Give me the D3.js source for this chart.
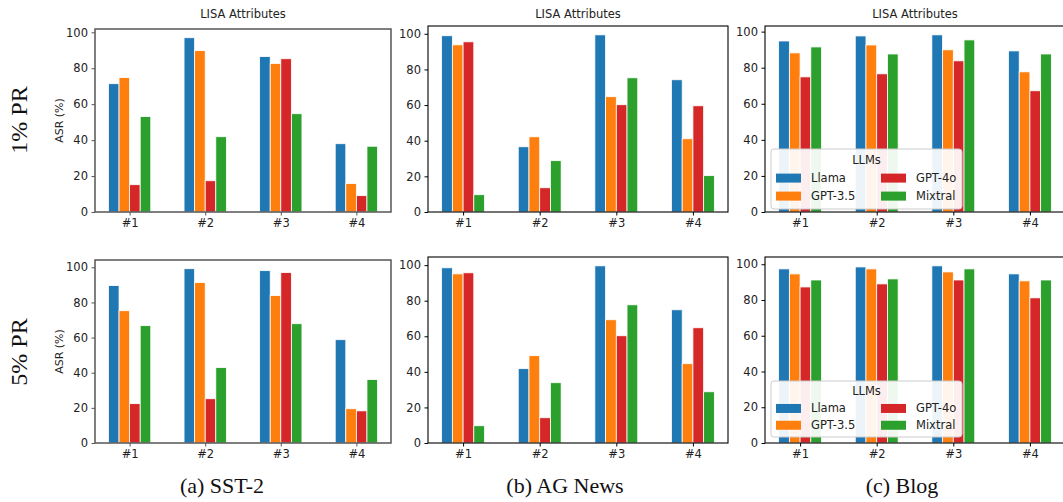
<!DOCTYPE html>
<html><head><meta charset="utf-8">
<script src="https://cdn.jsdelivr.net/npm/d3@7"></script>
<style>
body{margin:0;background:#fff;}
svg{display:block;}
</style></head>
<body>
<svg id="c" width="1063" height="502"></svg>
<script>
// ---- data ----
const categories = ["#1", "#2", "#3", "#4"];
const llms = ["Llama", "GPT-3.5", "GPT-4o", "Mixtral"];
const colors = ["#1f77b4", "#ff7f0e", "#d62728", "#2ca02c"];
const yTicks = [0, 20, 40, 60, 80, 100];
const rowLabels = ["1% PR", "5% PR"];
const captions = ["(a) SST-2", "(b) AG News", "(c) Blog"];
const panelTitle = "LISA Attributes";
const yLabel = "ASR (%)";
const legendTitle = "LLMs";

// values: one array per LLM, ordered by categories
const sst2_1_llama   = [71.4, 97.0, 86.5, 38.0];
const sst2_1_gpt35   = [74.8, 89.8, 82.7, 15.8];
const sst2_1_gpt4o   = [15.2, 17.4, 85.3, 9.1];
const sst2_1_mixtral = [53.1, 41.9, 54.7, 36.6];

const ag_1_llama   = [98.9, 36.6, 99.4, 74.2];
const ag_1_gpt35   = [93.8, 42.2, 64.7, 41.1];
const ag_1_gpt4o   = [95.5, 13.6, 60.2, 59.6];
const ag_1_mixtral = [9.7, 28.8, 75.3, 20.4];

const blog_1_llama   = [94.8, 97.6, 98.2, 89.3];
const blog_1_gpt35   = [88.2, 92.6, 89.9, 77.7];
const blog_1_gpt4o   = [74.9, 76.6, 83.8, 67.2];
const blog_1_mixtral = [91.5, 87.6, 95.4, 87.6];

const sst2_5_llama   = [89.6, 99.2, 98.1, 58.8];
const sst2_5_gpt35   = [75.3, 91.3, 83.9, 19.5];
const sst2_5_gpt4o   = [22.4, 25.2, 97.0, 18.3];
const sst2_5_mixtral = [66.8, 42.9, 67.9, 36.1];

const ag_5_llama   = [98.5, 41.8, 99.6, 74.9];
const ag_5_gpt35   = [95.1, 49.1, 69.3, 44.6];
const ag_5_gpt4o   = [95.7, 14.2, 60.3, 64.8];
const ag_5_mixtral = [9.7, 33.9, 77.7, 28.8];

const blog_5_llama   = [97.4, 98.5, 99.1, 94.6];
const blog_5_gpt35   = [94.6, 97.4, 95.7, 90.7];
const blog_5_gpt4o   = [87.3, 89.0, 91.2, 81.2];
const blog_5_mixtral = [91.2, 91.8, 97.4, 91.2];

const panelData = [
  [[sst2_1_llama, sst2_1_gpt35, sst2_1_gpt4o, sst2_1_mixtral],
   [ag_1_llama, ag_1_gpt35, ag_1_gpt4o, ag_1_mixtral],
   [blog_1_llama, blog_1_gpt35, blog_1_gpt4o, blog_1_mixtral]],
  [[sst2_5_llama, sst2_5_gpt35, sst2_5_gpt4o, sst2_5_mixtral],
   [ag_5_llama, ag_5_gpt35, ag_5_gpt4o, ag_5_mixtral],
   [blog_5_llama, blog_5_gpt35, blog_5_gpt4o, blog_5_mixtral]]
];

// ---- layout ----
const colX = [[95, 391], [428, 728], [765, 1065]];
const rowY = [[[29, 212], [26, 212], [26, 212]],
              [[260, 443], [257, 443], [257, 443]]];
const legendBox = [[771, 149, 962, 209], [771, 381, 962, 437]];
const sans = "DejaVu Sans, sans-serif";
const serif = "Liberation Serif, Times New Roman, serif";
const barW = 0.14;

const svg = d3.select("#c");

for (let r = 0; r < 2; r++) {
  for (let c = 0; c < 3; c++) {
    const series = panelData[r][c];
    const [x0, x1] = colX[c];
    const [y0, y1] = rowY[r][c];
    const lo = -2 * barW, hi = categories.length - 1 + 2 * barW;
    const m = 0.05 * (hi - lo);
    const x = d3.scaleLinear().domain([lo - m, hi + m]).range([x0, x1]);
    const maxV = d3.max(series.flat());
    const y = d3.scaleLinear().domain([0, maxV * 1.05]).range([y1, y0]);
    const g = svg.append("g");
    const pxW = x(barW) - x(0);

    series.forEach((vals, k) => {
      g.selectAll(null).data(vals).enter().append("rect")
        .attr("x", (d, i) => x(i + (k - 1.5) * barW) - pxW / 2)
        .attr("width", pxW)
        .attr("y", d => y(d))
        .attr("height", d => y(0) - y(d))
        .attr("fill", colors[k])
        .attr("stroke", "#fff")
        .attr("stroke-width", 0.8);
    });

    // axes
    const yAxis = d3.axisLeft(y).tickValues(yTicks).tickFormat(d3.format("d")).tickSize(3.5).tickPadding(3.5);
    const xAxis = d3.axisBottom(x).tickValues(d3.range(categories.length)).tickFormat(i => categories[i]).tickSize(3.5).tickPadding(3.5);
    const frameCol = c === 0 ? "#555" : "#000";
    const gy = g.append("g").attr("transform", `translate(${x0},0)`).call(yAxis);
    const gx = g.append("g").attr("transform", `translate(0,${y1})`).call(xAxis);
    [gx, gy].forEach(a => {
      a.select(".domain").remove();
      a.selectAll("text").attr("font-family", sans).attr("font-size", 11.5).attr("fill", "#222");
      a.selectAll("line").attr("stroke", frameCol);
    });
    g.append("rect").attr("x", x0).attr("y", y0).attr("width", x1 - x0).attr("height", y1 - y0)
      .attr("fill", "none").attr("stroke", frameCol).attr("stroke-width", c === 0 ? 1.5 : 1.1);

    if (r === 0) {
      g.append("text").attr("x", (x0 + x1) / 2).attr("y", 18).attr("text-anchor", "middle")
        .attr("font-family", sans).attr("font-size", 11.5).attr("fill", "#222").text(panelTitle);
    }
    if (c === 0) {
      const cy = (y0 + y1) / 2;
      g.append("text").attr("transform", `translate(63,${cy}) rotate(-90)`).attr("text-anchor", "middle")
        .attr("font-family", sans).attr("font-size", 11).attr("fill", "#222").text(yLabel);
    }
    if (c === 2) {
      const [lx0, ly0, lx1, ly1] = legendBox[r];
      const lg = g.append("g");
      lg.append("rect").attr("x", lx0).attr("y", ly0).attr("width", lx1 - lx0).attr("height", ly1 - ly0)
        .attr("rx", 3).attr("fill", "#fff").attr("fill-opacity", 0.92).attr("stroke", "#ccc").attr("stroke-width", 1);
      const lh = ly1 - ly0;
      lg.append("text").attr("x", (lx0 + lx1) / 2).attr("y", ly0 + lh * 0.25).attr("text-anchor", "middle")
        .attr("font-family", sans).attr("font-size", 11.5).attr("fill", "#222").text(legendTitle);
      llms.forEach((name, k) => {
        const col = Math.floor(k / 2), row = k % 2;
        const px = lx0 + 5 + col * 105;
        const py = ly0 + lh * (0.41 + row * 0.3);
        lg.append("rect").attr("x", px).attr("y", py).attr("width", 25).attr("height", 9).attr("fill", colors[k]);
        lg.append("text").attr("x", px + 35).attr("y", py + 8.5)
          .attr("font-family", sans).attr("font-size", 11.5).attr("fill", "#222").text(name);
      });
    }
  }
}

// row labels
const rowCenters = [120, 352];
rowLabels.forEach((t, i) => {
  svg.append("text").attr("transform", `translate(27,${rowCenters[i]}) rotate(-90)`).attr("text-anchor", "middle")
    .attr("font-family", serif).attr("font-size", 24).attr("fill", "#111").text(t);
});
// captions
const capX = [222, 565, 902];
captions.forEach((t, i) => {
  svg.append("text").attr("x", capX[i]).attr("y", 493).attr("text-anchor", "middle")
    .attr("font-family", serif).attr("font-size", 22).attr("fill", "#111").text(t);
});
</script>
</body></html>
